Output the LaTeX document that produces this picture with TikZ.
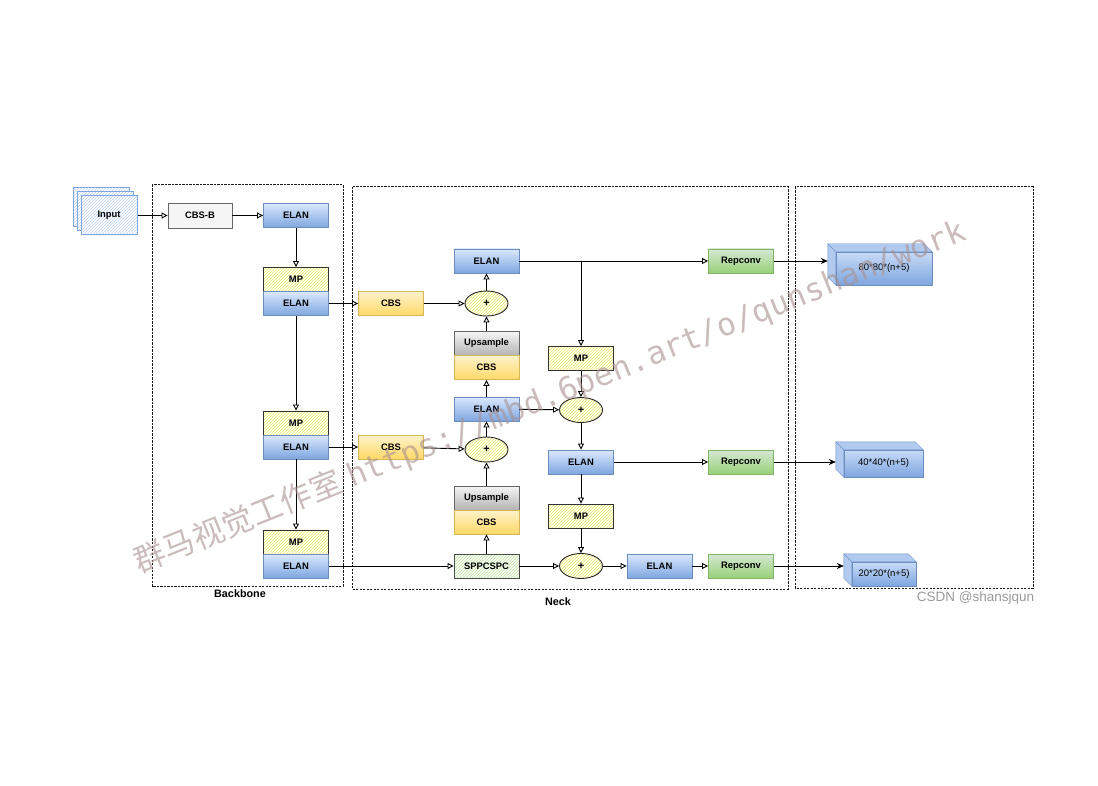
\documentclass[tikz,border=0pt]{standalone}
\usepackage{fontspec}
\setmainfont{Liberation Sans}
\newfontfamily\cjkfont{Noto Sans CJK SC}
\newfontfamily\wmfont{DejaVu Sans Mono}
\usetikzlibrary{arrows.meta,shapes.geometric,patterns}
\definecolor{blueA}{HTML}{DAE8FC}
\definecolor{blueB}{HTML}{7EA6E0}
\definecolor{blueL}{HTML}{6C8EBF}
\definecolor{yelA}{HTML}{FFF2CC}
\definecolor{yelB}{HTML}{FFD966}
\definecolor{yelL}{HTML}{D6B656}
\definecolor{grayA}{HTML}{F5F5F5}
\definecolor{grayB}{HTML}{B3B3B3}
\definecolor{grayL}{HTML}{666666}
\definecolor{grnA}{HTML}{D5E8D4}
\definecolor{grnB}{HTML}{97D077}
\definecolor{grnL}{HTML}{82B366}
\definecolor{hatchY}{HTML}{E8E870}
\definecolor{hatchG}{HTML}{C8E0A8}
\definecolor{wmark}{HTML}{A89090}

\begin{document}
\begin{tikzpicture}[x=1pt, y=-1pt,
    box/.style={rectangle, minimum width=65, minimum height=24, inner sep=0pt, line width=0.9pt,
        font=\fontsize{9.4}{11}\selectfont\bfseries},
    elan/.style={box, draw=blueL, top color=blueA, bottom color=blueB},
    cbs/.style={box, draw=yelL, top color=yelA, bottom color=yelB},
    ups/.style={box, draw=grayL, top color=grayA, bottom color=grayB},
    rep/.style={box, draw=grnL, top color=grnA, bottom color=grnB},
    mp/.style={box, draw=black!80, preaction={fill=yellow!6}, pattern=north east lines, pattern color=hatchY},
    sppc/.style={box, draw=black!70, preaction={fill=green!4}, pattern=north east lines, pattern color=hatchG},
    cbsb/.style={box, minimum width=64, minimum height=25, draw=grayL, fill=grayA},
    inbox/.style={box, minimum width=56, minimum height=39, draw=blueB, line width=1pt,
        preaction={fill=white}, pattern=north east lines, pattern color=blueA!70!blueB},
    plus/.style={ellipse, minimum width=43, minimum height=25, inner sep=0pt, draw=black!85, line width=0.9pt,
        preaction={fill=yellow!6}, pattern=north east lines, pattern color=hatchY,
        font=\fontsize{11}{12}\selectfont\bfseries},
    cube/.style={rectangle, inner sep=0pt, draw=blueL, top color=blueA!80!blueB, bottom color=blueB,
        font=\fontsize{9.5}{11}\selectfont},
    cubeside/.style={draw=blueL, fill=blueA!55!blueB},
    frame/.style={draw=black!90, line width=1pt, dash pattern=on 2.2pt off 1.3pt},
    title/.style={font=\fontsize{10.8}{12}\selectfont\bfseries},
    arr/.style={-{Triangle[open, length=6pt, width=6pt]}, line width=0.9pt},
    outarr/.style={-{Stealth[length=7pt, width=6pt]}, line width=0.8pt, shorten >=8pt}
]
\useasboundingbox (0,0) rectangle (1098,786);

\draw[frame] (152,185) rectangle (343,586);
\draw[frame] (352,187) rectangle (788,589);
\draw[frame] (795,187) rectangle (1033,588);
\node[title] (backbone) at (240,594) {Backbone};
\node[title] (neck) at (558,602) {Neck};

\node[inbox] (in3) at (101,207.5) {};
\node[inbox] (in2) at (105,211.5) {};
\node[inbox] (in) at (109,215.5) {Input};
\node[cbsb] (cbsb) at (200,215.5) {CBS-B};
\node[elan] (elan1) at (296,215.5) {ELAN};
\node[mp] (mp1) at (296,279.5) {MP};
\node[elan] (elan2) at (296,303.5) {ELAN};
\node[mp] (mp2) at (296,423) {MP};
\node[elan] (elan3) at (296,447) {ELAN};
\node[mp] (mp3) at (296,542) {MP};
\node[elan] (elan4) at (296,566) {ELAN};

\node[cbs] (cbs1) at (391,303.5) {CBS};
\node[cbs] (cbs2) at (391,447) {CBS};
\node[elan] (elan5) at (486.5,261) {ELAN};
\node[plus] (plus1) at (486.5,303.5) {+};
\node[ups] (ups1) at (486.5,343.5) {Upsample};
\node[cbs] (cbs3) at (486.5,367.5) {CBS};
\node[elan] (elan6) at (486.5,409) {ELAN};
\node[plus] (plus2) at (486.5,449.5) {+};
\node[ups] (ups2) at (486.5,498) {Upsample};
\node[cbs] (cbs4) at (486.5,522) {CBS};
\node[sppc] (sppc) at (486.5,566) {SPPCSPC};

\node[mp] (mp4) at (581,358.5) {MP};
\node[plus] (plus3) at (581,410) {+};
\node[elan] (elan7) at (581,462) {ELAN};
\node[mp] (mp5) at (581,516) {MP};
\node[plus] (plus4) at (581,566) {+};
\node[elan] (elan8) at (659.5,566) {ELAN};

\node[rep] (rep1) at (741,261) {Repconv};
\node[rep] (rep2) at (741,462) {Repconv};
\node[rep] (rep3) at (741,566) {Repconv};

\node[cube, minimum width=96, minimum height=33] (c80) at (884,268.5) {80*80*(n+5)};
\node[cube, minimum width=79, minimum height=27] (c40) at (883.5,463.5) {40*40*(n+5)};
\node[cube, minimum width=64, minimum height=24] (c20) at (884,574) {20*20*(n+5)};
\foreach \c in {c80,c40,c20}
    \draw[cubeside] (\c.north west) -- ++(-8,-8) -- ([shift={(-8,-8)}]\c.north east) -- (\c.north east) -- cycle
        (\c.north west) -- ++(-8,-8) -- ([shift={(-8,-8)}]\c.south west) -- (\c.south west) -- cycle;

\draw[arr] (in) -- (cbsb);
\draw[arr] (cbsb) -- (elan1);
\draw[arr] (elan1) -- (mp1);
\draw[arr] (elan2) -- (cbs1);
\draw[arr] (elan2) -- (mp2);
\draw[arr] (elan3) -- (cbs2);
\draw[arr] (elan3) -- (mp3);
\draw[arr] (elan4) -- (sppc);

\draw[arr] (cbs1) -- (plus1);
\draw[arr] (cbs2) -- (plus2);
\draw[arr] (plus1) -- (elan5);
\draw[arr] (ups1) -- (plus1);
\draw[arr] (elan6) -- (cbs3);
\draw[arr] (plus2) -- (elan6);
\draw[arr] (ups2) -- (plus2);
\draw[arr] (sppc) -- (cbs4);
\draw[arr] (sppc) -- (plus4);

\draw[arr] (elan5) -- (rep1);
\draw[arr] (elan5.east -| mp4) -- (mp4);
\draw[arr] (mp4) -- (plus3);
\draw[arr] (elan6) -- (plus3);
\draw[arr] (plus3) -- (elan7);
\draw[arr] (elan7) -- (rep2);
\draw[arr] (elan7) -- (mp5);
\draw[arr] (mp5) -- (plus4);
\draw[arr] (plus4) -- (elan8);
\draw[arr] (elan8) -- (rep3);

\draw[outarr] (rep1) -- (c80.west |- rep1);
\draw[outarr] (rep2) -- (c40.west |- rep2);
\draw[outarr] (rep3) -- (c20.west |- rep3);

\node[text=black!40, font=\fontsize{13.5}{15}\selectfont] (csdn) at (975.5,598) {CSDN @shansjqun};
\node[text=wmark, opacity=0.6, rotate=22, font=\fontsize{31.5}{36}\selectfont] (wm) at (550,397)
    {{\cjkfont 群马视觉工作室} {\wmfont https://mbd.6pen.art/o/qunshan/work}};
\end{tikzpicture}
\end{document}
